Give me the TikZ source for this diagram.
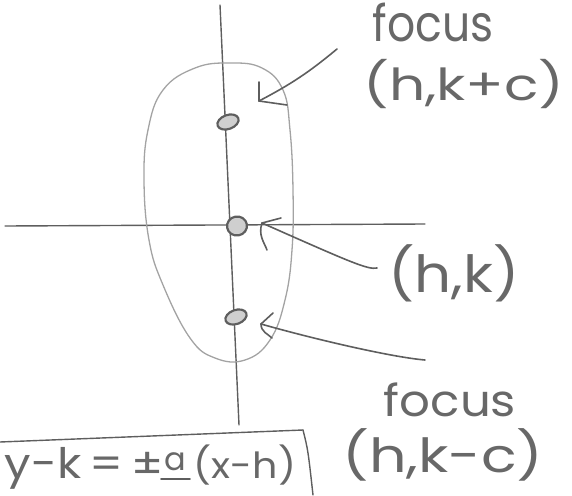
\documentclass[tikz,border=0pt]{standalone}
\usepackage{fontspec}
\setmainfont{Poppins}
\usetikzlibrary{shapes.geometric}
\definecolor{pencil}{HTML}{5E5E5E}
\definecolor{lightpencil}{HTML}{A3A3A3}
\definecolor{handtext}{HTML}{686868}
\begin{document}
\begin{tikzpicture}[x=1pt,y=-1pt,
  axis/.style={draw=pencil, line width=1.4pt, line cap=round},
  oval/.style={draw=lightpencil, line width=1.3pt},
  pointer/.style={draw=pencil, line width=1.6pt, line cap=round, line join=round},
  dotmark/.style={ellipse, draw=pencil, line width=2.2pt, minimum width=22pt, minimum height=14pt, inner sep=0pt, fill=pencil!30},
  hand/.style={text=handtext, inner sep=0pt, font=\fontsize{42}{42}\selectfont},
]
\useasboundingbox (0,0) rectangle (572,495);
\clip (0,0) rectangle (572,495);

% axes
\coordinate (vt) at (220,5);
\coordinate (vb) at (239,425);
\coordinate (hl) at (5,226);
\coordinate (hr) at (425,224);
\draw[axis] (vt) -- (vb);
\draw[axis] (hl) -- (hr);

% ellipse
\draw[oval] plot[smooth cycle, tension=0.7] coordinates {(230,63) (262,68) (283,90) (290,130) (293,190) (292,250) (285,300) (270,340) (245,360) (215,358) (190,338) (163,285) (149,240) (144,180) (148,130) (163,90) (195,68)};

% points
\node[dotmark, rotate=20] (ftop) at (228,122) {};
\node[dotmark, rotate=10, minimum width=20pt, minimum height=19pt] (ctr) at (237,226) {};
\node[dotmark, rotate=20] (fbot) at (236,317) {};

% labels
\node[hand] (focTop) at (433,22) {\scalebox{1.05}[1.2]{focus}};
\node[hand] (hkc) at (464,84) {\scalebox{1.35}[1.05]{(h,k+c)}};
\node[hand] (hk) at (454,273) {\scalebox{1.38}[1.22]{(h,k)}};
\node[hand] (focBot) at (450,400) {\scalebox{1.15}[1.05]{focus}};
\node[hand] (hkmc) at (443,455) {\scalebox{1.4}[1.12]{(h,k-c)}};

% arrows
\coordinate (t1) at (337,49);
\coordinate (h1) at (259,101);
\draw[pointer] (t1) to[bend left=6] (h1);
\draw[pointer] (h1) -- ++(0,-19);
\draw[pointer] (h1) -- ++(28,4);

\coordinate (t2) at (377,268);
\coordinate (h2) at (262,223);
\draw[pointer] (t2) .. controls (368,270) and (350,262) .. (h2);
\draw[pointer] (h2) -- ++(19,-5);
\draw[pointer] (h2) .. controls +(-4,12) and +(-3,-8) .. ++(5,27);

\coordinate (t3) at (425,360);
\coordinate (h3) at (261,324);
\draw[pointer] (t3) .. controls (390,357) and (310,338) .. (h3);
\draw[pointer] (h3) -- ++(12,-11);
\draw[pointer] (h3) .. controls +(0,8) and +(-4,-4) .. ++(11,14);

% equation box
\coordinate (bl) at (0,442);
\coordinate (bc) at (303,430);
\coordinate (bb) at (313,495);
\draw[axis] (bl) -- (bc);
\draw[axis] (bc) .. controls (308,450) .. (bb);

\node[hand, font=\fontsize{42}{42}\selectfont] (eqL) at (84,468) {\scalebox{1.12}[1]{y-k\,=\,±}};
\node[hand, font=\fontsize{32}{32}\selectfont] (eqA) at (175,462) {a};
\draw[pointer] (161,479) -- (190,479);
\node[hand, font=\fontsize{36}{36}\selectfont] (eqR) at (245,465) {\scalebox{1.1}[1]{(x-h)}};
\end{tikzpicture}
\end{document}
